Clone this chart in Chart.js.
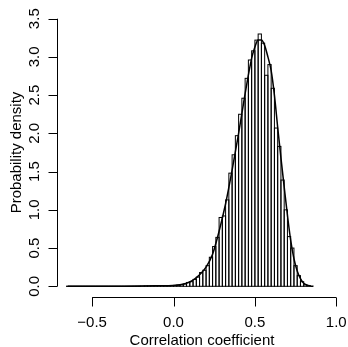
<!DOCTYPE html>
<html>
<head>
<meta charset="utf-8">
<script src="https://cdn.jsdelivr.net/npm/chart.js@4/dist/chart.umd.min.js"></script>
<style>
  body { margin: 0; background: #fff; }
</style>
</head>
<body>
<canvas id="grafHist" width="348" height="347"></canvas>
<script>
// histogram bins, width 0.02, starting at -0.66
const binStart = -0.66;
const binWidth = 0.02;
// density of each bin
const densTail = [0, 0, 0, 0, 0, 0, 0, 0, 0, 0, 0, 0, 0, 0, 0, 0, 0, 0, 0, 0,
  0, 0, 0, 0.002, 0.004, 0.003, 0.006, 0.01, 0.005, 0.008, 0.01, 0.009, 0.011];
const densMain = [0.012, 0.015, 0.02, 0.03, 0.05, 0.06, 0.09, 0.12, 0.18, 0.21,
  0.27, 0.38, 0.52, 0.64, 0.90, 0.92, 1.13, 1.48, 1.72, 1.97,
  2.25, 2.46, 2.72, 2.96, 3.08, 3.22, 3.30, 3.18, 2.76, 2.90,
  2.59, 2.07, 1.83, 1.39, 1.00, 0.65, 0.50, 0.27, 0.14, 0.06,
  0.02, 0.01];
const binDens = densTail.concat(densMain);

// kernel density curve
const curveX = [-0.65, -0.5, -0.3, -0.2, -0.1, 0.0, 0.04, 0.08, 0.12, 0.16, 0.20, 0.24,
  0.28, 0.32, 0.36, 0.40, 0.44, 0.48, 0.50, 0.52, 0.54, 0.56, 0.58, 0.60, 0.62, 0.64,
  0.66, 0.68, 0.70, 0.72, 0.74, 0.76, 0.78, 0.80, 0.82, 0.84, 0.86];
const curveY = [0, 0, 0.002, 0.004, 0.007, 0.012, 0.02, 0.04, 0.08, 0.15, 0.25, 0.42,
  0.72, 1.08, 1.52, 2.00, 2.52, 2.98, 3.13, 3.22, 3.22, 3.15, 3.00, 2.82, 2.50, 2.08,
  1.68, 1.30, 0.93, 0.60, 0.36, 0.20, 0.10, 0.04, 0.015, 0.005, 0];

const xTicks = [-0.5, 0.0, 0.5, 1.0];
const yTicks = [0.0, 0.5, 1.0, 1.5, 2.0, 2.5, 3.0, 3.5];
const xTitle = 'Correlation coefficient';
const yTitle = 'Probability density';

const barPts = binDens.map((d, i) => ({ x: binStart + binWidth * (i + 0.5), y: d }));
const curvePts = curveX.map((x, i) => ({ x: x, y: curveY[i] }));

const fuente = '15px "Liberation Sans", Arial, Helvetica, sans-serif';
const fmt = v => v.toFixed(1).replace('-', '\u2212');

// outlines of the histogram rectangles (R style, shared edges)
const contornos = {
  id: 'contornos',
  afterDatasetDraw(chart, args) {
    if (args.index !== 1) return;
    const ctx = chart.ctx;
    ctx.save();
    ctx.strokeStyle = '#000';
    ctx.lineWidth = 1;
    args.meta.data.forEach(el => {
      const w = el.width;
      ctx.strokeRect(el.x - w / 2, el.y, w, el.base - el.y);
    });
    ctx.restore();
  }
};

// R style axes
const ejes = {
  id: 'ejes',
  afterDraw(chart) {
    const ctx = chart.ctx;
    const sx = chart.scales.x, sy = chart.scales.y;
    const area = chart.chartArea;
    const tick = 9;
    ctx.save();
    ctx.strokeStyle = '#000';
    ctx.fillStyle = '#000';
    ctx.lineWidth = 1;
    ctx.font = fuente;

    // x axis
    const yb = Math.round(area.bottom) + 0.5;
    ctx.beginPath();
    ctx.moveTo(sx.getPixelForValue(xTicks[0]), yb);
    ctx.lineTo(sx.getPixelForValue(xTicks[xTicks.length - 1]), yb);
    xTicks.forEach(t => {
      const px = Math.round(sx.getPixelForValue(t)) + 0.5;
      ctx.moveTo(px, yb);
      ctx.lineTo(px, yb + tick);
    });
    ctx.stroke();
    ctx.textAlign = 'center';
    ctx.textBaseline = 'alphabetic';
    xTicks.forEach(t => ctx.fillText(fmt(t), sx.getPixelForValue(t), 327));
    ctx.fillText(xTitle, (area.left + area.right) / 2, 345);

    // y axis
    const xl = Math.round(area.left) + 0.5;
    ctx.beginPath();
    ctx.moveTo(xl, sy.getPixelForValue(yTicks[0]));
    ctx.lineTo(xl, sy.getPixelForValue(yTicks[yTicks.length - 1]));
    yTicks.forEach(t => {
      const py = Math.round(sy.getPixelForValue(t)) + 0.5;
      ctx.moveTo(xl, py);
      ctx.lineTo(xl - tick, py);
    });
    ctx.stroke();
    yTicks.forEach(t => {
      ctx.save();
      ctx.translate(39, sy.getPixelForValue(t));
      ctx.rotate(-Math.PI / 2);
      ctx.fillText(fmt(t), 0, 0);
      ctx.restore();
    });
    ctx.save();
    ctx.translate(21, (area.top + area.bottom) / 2);
    ctx.rotate(-Math.PI / 2);
    ctx.fillText(yTitle, 0, 0);
    ctx.restore();
    ctx.restore();
  }
};

new Chart(document.getElementById('grafHist'), {
  type: 'bar',
  data: {
    datasets: [
      {
        type: 'line',
        data: curvePts,
        borderColor: '#000',
        borderWidth: 1.5,
        pointRadius: 0,
        fill: false,
        cubicInterpolationMode: 'monotone'
      },
      {
        type: 'bar',
        data: barPts,
        backgroundColor: '#fff',
        borderWidth: 0,
        barPercentage: 1,
        categoryPercentage: 1
      }
    ]
  },
  options: {
    responsive: false,
    animation: false,
    layout: { padding: { left: 57, right: 1, top: 8, bottom: 50 } },
    plugins: {
      legend: { display: false },
      tooltip: { enabled: false }
    },
    scales: {
      x: { type: 'linear', min: -0.716, max: 1.066, offset: false, display: false },
      y: { type: 'linear', min: -0.14, max: 3.64, display: false }
    }
  },
  plugins: [contornos, ejes]
});
</script>
</body>
</html>
